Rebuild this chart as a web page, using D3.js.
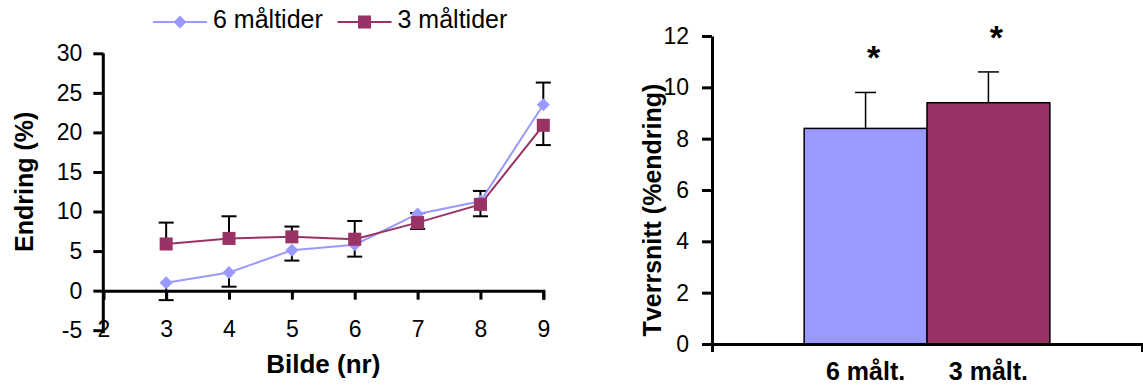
<!DOCTYPE html>
<html>
<head>
<meta charset="utf-8">
<script src="https://cdn.jsdelivr.net/npm/d3@7"></script>
<style>
  html, body { margin: 0; padding: 0; background: #fff; }
  svg { display: block; font-family: "Liberation Sans", Arial, sans-serif; }
</style>
</head>
<body>
<svg id="chart" width="1143" height="385"></svg>
<script>
// Bilde-nummer (x-akse, venstre diagram)
const bilde = [3, 4, 5, 6, 7, 8, 9];
// Gjennomsnittlig endring (%) per bilde
const maaltider6 = [1.0, 2.3, 5.1, 5.8, 9.7, 11.3, 23.5];
const maaltider3 = [5.9, 6.6, 6.8, 6.5, 8.6, 10.9, 20.9];
// Ensidige feilstolper (opp / ned)
const feil6Opp = [0, 0, 0, 0, 0.1, 1.3, 2.8];
const feil6Ned = [2.2, 1.8, 1.3, 1.5, 0, 0, 0];
const feil3Opp = [2.7, 2.8, 1.3, 2.3, 0, 0, 0];
const feil3Ned = [0, 0, 0, 0, 0.8, 1.5, 2.5];
const seriesNames = ["6 måltider", "3 måltider"];
const xTicksLeft = [2, 3, 4, 5, 6, 7, 8, 9];
const yTicksLeft = [-5, 0, 5, 10, 15, 20, 25, 30];

// Tverrsnitt (høyre diagram)
const grupper = ["6 målt.", "3 målt."];
const tverrsnitt = [8.4, 9.4];
const tverrsnittFeil = [1.4, 1.2];
const signifikans = ["*", "*"];
const yTicksRight = [0, 2, 4, 6, 8, 10, 12];

const farger = ["#9999FF", "#993366"];

const svg = d3.select("#chart");
const plain = d => String(d);

// ---------- Venstre diagram: linjer ----------
const xL = d3.scaleLinear().domain([2, 9]).range([103.3, 543.3]);
const yL = d3.scaleLinear().domain([-5, 30]).range([330.2, 53.3]);

const left = svg.append("g");

const yAxisL = left.append("g")
  .attr("transform", `translate(${xL(2)},0)`)
  .call(d3.axisLeft(yL).tickValues(yTicksLeft).tickFormat(plain)
    .tickSize(10).tickSizeOuter(0).tickPadding(11));

const xAxisL = left.append("g")
  .attr("transform", `translate(0,${yL(0)})`)
  .call(d3.axisBottom(xL).tickValues(xTicksLeft).tickFormat(plain)
    .tickSize(9).tickSizeOuter(9).tickPadding(21));

[yAxisL, xAxisL].forEach(a => {
  a.selectAll("path.domain").attr("stroke", "#000").attr("stroke-width", 3);
  a.selectAll(".tick line").attr("stroke", "#000").attr("stroke-width", 3);
  a.selectAll(".tick text").attr("font-size", 23).attr("fill", "#000")
    .attr("font-family", "Liberation Sans, Arial, sans-serif");
});
// the y axis runs a little past the -5 tick
yAxisL.select("path.domain").attr("d", `M0,${yL(30)}V${yL(-5) + 3}`);

const serier = [
  { name: seriesNames[0], values: maaltider6, up: feil6Opp, down: feil6Ned, color: farger[0], shape: "diamond" },
  { name: seriesNames[1], values: maaltider3, up: feil3Opp, down: feil3Ned, color: farger[1], shape: "square" }
];

const line = d3.line().x((d, i) => xL(bilde[i])).y(d => yL(d));

// Feilstolper
const capW = 15;
serier.forEach(s => {
  const g = left.append("g");
  s.values.forEach((v, i) => {
    [[s.up[i], 1], [s.down[i], -1]].forEach(([e, dir]) => {
      if (e <= 0) return;
      const x = xL(bilde[i]);
      const yEnd = yL(v + dir * e);
      g.append("line").attr("x1", x).attr("x2", x).attr("y1", yL(v)).attr("y2", yEnd)
        .attr("stroke", "#000").attr("stroke-width", 2);
      g.append("line").attr("x1", x - capW / 2).attr("x2", x + capW / 2).attr("y1", yEnd).attr("y2", yEnd)
        .attr("stroke", "#000").attr("stroke-width", 2);
    });
  });
});

// Linjer og markører
const diamond = d3.symbol().type(d3.symbolSquare).size(85);
const square = d3.symbol().type(d3.symbolSquare).size(170);
serier.forEach(s => {
  left.append("path").datum(s.values).attr("d", line)
    .attr("fill", "none").attr("stroke", s.color).attr("stroke-width", 2);
  left.selectAll(null).data(s.values).enter().append("path")
    .attr("transform", (d, i) => `translate(${xL(bilde[i])},${yL(d)})` + (s.shape === "diamond" ? " rotate(45)" : ""))
    .attr("d", s.shape === "diamond" ? diamond : square)
    .attr("fill", s.color);
});

// Aksetitler
left.append("text")
  .attr("x", (xL(2) + xL(9)) / 2).attr("y", 373)
  .attr("text-anchor", "middle").attr("font-size", 26).attr("font-weight", "bold")
  .text("Bilde (nr)");
left.append("text")
  .attr("transform", `translate(33,${(yL(-5) + yL(30)) / 2 - 10}) rotate(-90)`)
  .attr("text-anchor", "middle").attr("font-size", 25).attr("font-weight", "bold")
  .text("Endring (%)");

// Tegnforklaring
const legendX = d3.scaleOrdinal().domain(seriesNames).range([153, 337.5]);
serier.forEach(s => {
  const lg = left.append("g").attr("transform", `translate(${legendX(s.name)},22)`);
  lg.append("line").attr("x1", 0).attr("x2", 54).attr("stroke", s.color).attr("stroke-width", 2);
  lg.append("path").attr("d", s.shape === "diamond" ? diamond : square)
    .attr("transform", `translate(27,0)` + (s.shape === "diamond" ? " rotate(45)" : ""))
    .attr("fill", s.color);
  lg.append("text").attr("x", 60).attr("y", 6).attr("font-size", 25).text(s.name);
});

// ---------- Høyre diagram: søyler ----------
const xOuter = d3.scaleBand().domain(["Tverrsnitt"]).range([712, 1142]);
const xR = d3.scaleBand().domain(grupper)
  .range([xOuter("Tverrsnitt"), xOuter("Tverrsnitt") + xOuter.bandwidth()])
  .paddingInner(0).paddingOuter(0.75);
const yR = d3.scaleLinear().domain([0, 12]).range([344, 36]);

const right = svg.append("g");

// Søyler
right.selectAll("rect.bar").data(tverrsnitt).enter().append("rect")
  .attr("class", "bar")
  .attr("x", (d, i) => xR(grupper[i]))
  .attr("width", xR.bandwidth())
  .attr("y", d => yR(d))
  .attr("height", d => yR(0) - yR(d))
  .attr("fill", (d, i) => farger[i])
  .attr("stroke", "#000").attr("stroke-width", 1.5);

// Feilstolper og signifikansmerker
const capR = 21;
tverrsnitt.forEach((v, i) => {
  const x = xR(grupper[i]) + xR.bandwidth() / 2;
  right.append("line").attr("x1", x).attr("x2", x).attr("y1", yR(v)).attr("y2", yR(v + tverrsnittFeil[i]))
    .attr("stroke", "#000").attr("stroke-width", 1.5);
  right.append("line").attr("x1", x - capR / 2).attr("x2", x + capR / 2)
    .attr("y1", yR(v + tverrsnittFeil[i])).attr("y2", yR(v + tverrsnittFeil[i]))
    .attr("stroke", "#000").attr("stroke-width", 1.5);
  right.append("text")
    .attr("x", x + 8).attr("y", yR(v + tverrsnittFeil[i]) - 23)
    .attr("text-anchor", "middle").attr("font-size", 34).attr("font-weight", "bold")
    .text(signifikans[i]);
});

const yAxisR = right.append("g")
  .attr("transform", `translate(${xOuter.range()[0]},0)`)
  .call(d3.axisLeft(yR).tickValues(yTicksRight).tickFormat(plain)
    .tickSize(10).tickSizeOuter(0).tickPadding(13));
const xAxisR = right.append("g")
  .attr("transform", `translate(0,${yR(0)})`)
  .call(d3.axisBottom(xOuter).tickValues([]).tickSizeOuter(8));

[yAxisR, xAxisR].forEach(a => {
  a.selectAll("path.domain").attr("stroke", "#000").attr("stroke-width", 3);
  a.selectAll(".tick line").attr("stroke", "#000").attr("stroke-width", 3);
  a.selectAll(".tick text").attr("font-size", 23).attr("fill", "#000")
    .attr("font-family", "Liberation Sans, Arial, sans-serif");
});

// Kategorietiketter under søylene
right.selectAll("text.kat").data(grupper).enter().append("text")
  .attr("class", "kat")
  .attr("x", d => xR(d) + xR.bandwidth() / 2)
  .attr("y", 380)
  .attr("text-anchor", "middle").attr("font-size", 25).attr("font-weight", "bold")
  .text(d => d);

right.append("text")
  .attr("transform", `translate(661,${(yR(0) + yR(12)) / 2 + 20}) rotate(-90)`)
  .attr("text-anchor", "middle").attr("font-size", 25).attr("font-weight", "bold")
  .text("Tverrsnitt (%endring)");
</script>
</body>
</html>
